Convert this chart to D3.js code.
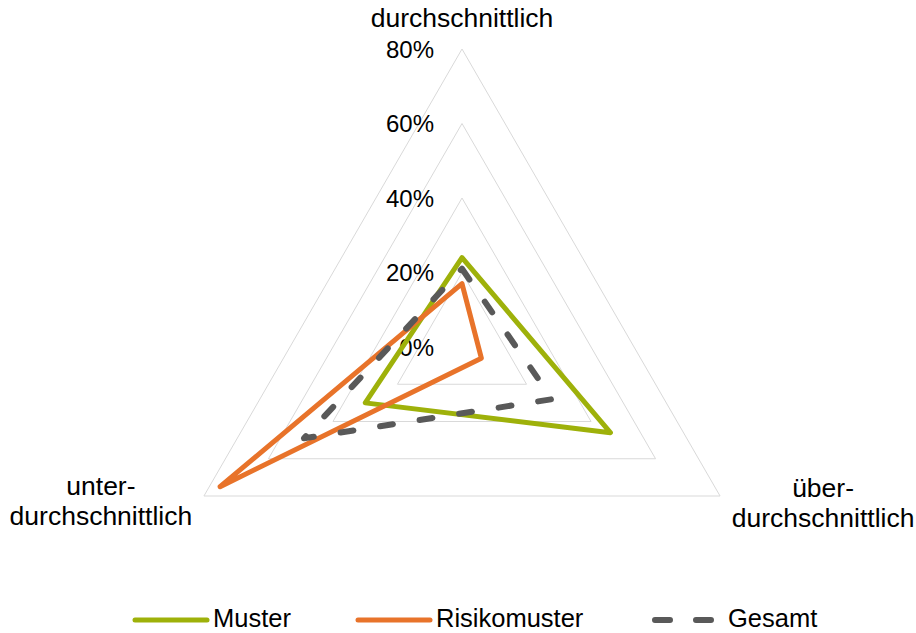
<!DOCTYPE html>
<html>
<head>
<meta charset="utf-8">
<script src="https://cdn.jsdelivr.net/npm/d3@7/dist/d3.min.js"></script>
<style>
  html, body { margin: 0; padding: 0; background: #fff; }
  svg { display: block; font-family: "Liberation Sans", Arial, sans-serif; }
</style>
</head>
<body>
<svg id="chart" width="916" height="633"></svg>
<script>
// Axes of the radar (clockwise from top)
const categories = [
  ["durchschnittlich"],
  ["über-", "durchschnittlich"],
  ["unter-", "durchschnittlich"]
];
// Shares per axis (fraction)
const muster       = [0.24, 0.46, 0.30];
const risikomuster = [0.17, 0.06, 0.75];
const gesamt       = [0.21, 0.28, 0.49];
const seriesNames  = ["Muster", "Risikomuster", "Gesamt"];
const tickValues   = [0, 0.2, 0.4, 0.6, 0.8];

const series = [
  { name: seriesNames[0], values: muster,       color: "#9EB10A", dash: null },
  { name: seriesNames[1], values: risikomuster, color: "#E8732A", dash: null },
  { name: seriesNames[2], values: gesamt,       color: "#595959", dash: "13 27" }
];

const svg = d3.select("#chart");
const cx = 462, cy = 347, R = 298;
const r = d3.scaleLinear().domain([0, 0.8]).range([0, R]);
const n = categories.length;
const angle = i => (i * 2 * Math.PI) / n;           // 0 = up, clockwise
const pt = (i, v) => [cx + r(v) * Math.sin(angle(i)), cy - r(v) * Math.cos(angle(i))];

const g = svg.append("g");

// Triangular grid rings
tickValues.filter(t => t > 0).forEach(t => {
  g.append("path")
    .attr("d", d3.line()(d3.range(n).map(i => pt(i, t))) + "Z")
    .attr("fill", "none")
    .attr("stroke", "#D9D9D9")
    .attr("stroke-width", 1);
});

// Tick labels along the top axis
const fmt = d3.format(".0%");
g.selectAll(".tick")
  .data(tickValues)
  .join("text")
  .attr("x", 434)
  .attr("y", d => cy - r(d))
  .attr("dy", "0.36em")
  .attr("text-anchor", "end")
  .attr("font-size", 24)
  .attr("fill", "#000")
  .text(d => fmt(d));

// Series polygons
const radial = d3.lineRadial()
  .angle((d, i) => angle(i))
  .radius(d => r(d))
  .curve(d3.curveLinearClosed);

series.forEach(s => {
  g.append("path")
    .attr("transform", `translate(${cx},${cy})`)
    .attr("d", radial(s.values))
    .attr("fill", "none")
    .attr("stroke", s.color)
    .attr("stroke-width", s.dash ? 6 : 5)
    .attr("stroke-linejoin", "round")
    .attr("stroke-linecap", "round")
    .attr("stroke-dasharray", s.dash);
});

// Category labels
const labelPos = [
  { x: cx, y: 27 },
  { x: pt(1, 0.8)[0] + 103, y: 497 },
  { x: pt(2, 0.8)[0] - 103, y: 495 }
];
categories.forEach((lines, i) => {
  const t = g.append("text")
    .attr("text-anchor", "middle")
    .attr("font-size", 26.5)
    .attr("fill", "#000");
  lines.forEach((ln, k) => {
    t.append("tspan")
      .attr("x", labelPos[i].x)
      .attr("y", labelPos[i].y + k * 30)
      .text(ln);
  });
});

// Legend
const legendX = [135, 358, 652];
const ly = 620;
const lg = svg.append("g");
series.forEach((s, i) => {
  lg.append("line")
    .attr("x1", legendX[i] + (s.dash ? 3 : 0))
    .attr("x2", legendX[i] + (s.dash ? 62 : 72))
    .attr("y1", ly).attr("y2", ly)
    .attr("stroke", s.color)
    .attr("stroke-width", s.dash ? 6 : 5)
    .attr("stroke-linecap", "round")
    .attr("stroke-dasharray", s.dash ? "15 26" : null);
  lg.append("text")
    .attr("x", legendX[i] + (s.dash ? 76 : 78))
    .attr("y", 627)
    .attr("font-size", 25.5)
    .attr("fill", "#000")
    .text(s.name);
});
</script>
</body>
</html>
